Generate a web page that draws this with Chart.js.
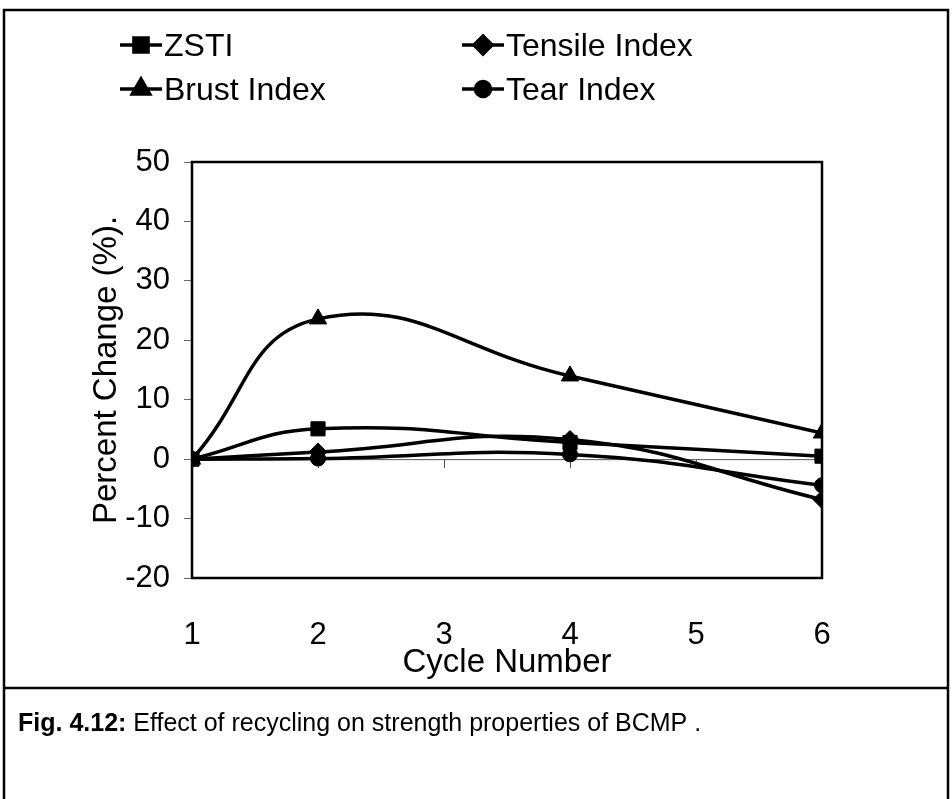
<!DOCTYPE html>
<html>
<head>
<meta charset="utf-8">
<script src="https://cdn.jsdelivr.net/npm/chart.js@4.4.1/dist/chart.umd.min.js"></script>
<style>
  html, body { margin: 0; padding: 0; background: #fff; }
  #wrap { width: 952px; height: 799px; position: relative; }
</style>
</head>
<body>
<div id="wrap"><canvas id="c" width="952" height="799"></canvas></div>
<script>
// Recycling cycles at which the pulp was tested
const cycles = [1, 2, 4, 6];

// Percent change of each strength property relative to the first cycle
const zstiValues    = [0, 5.1, 2.8, 0.5];
const tensileValues = [0, 1.2, 3.3, -6.8];
const brustValues   = [0, 23.6, 14.0, 4.4];
const tearValues    = [0, 0.1, 0.8, -4.4];

const seriesNames = ['ZSTI', 'Tensile Index', 'Brust Index', 'Tear Index'];

const yTicks = { min: -20, max: 50, step: 10 };
const xTicks = { min: 1, max: 6, step: 1 };

const yTitle = 'Percent Change (%).';
const xTitle = 'Cycle Number';
const captionBold = 'Fig. 4.12:';
const captionText = ' Effect of recycling on strength properties of BCMP .';

const FONT = '"Liberation Sans", Arial, sans-serif';

function pts(values) {
  return cycles.map((c, i) => ({ x: c, y: values[i] }));
}

function series(label, values, style, radius) {
  return {
    label,
    data: pts(values),
    borderColor: '#000',
    backgroundColor: '#000',
    borderWidth: 3.5,
    pointStyle: style,
    pointRadius: radius,
    pointHoverRadius: radius,
    pointBorderWidth: 1,
    pointBorderColor: '#000',
    pointBackgroundColor: '#000',
    tension: 0.45,
    fill: false
  };
}

// Frame, plot box, zero line, titles, legend and caption
const decor = {
  id: 'decor',
  beforeDatasetsDraw(chart) {
    const ctx = chart.ctx;
    const a = chart.chartArea;
    const xs = chart.scales.x, ys = chart.scales.y;
    ctx.save();
    // zero line with tick marks
    const y0 = ys.getPixelForValue(0);
    ctx.strokeStyle = '#555';
    ctx.lineWidth = 1;
    ctx.beginPath();
    ctx.moveTo(a.left, y0 + 0.5);
    ctx.lineTo(a.right, y0 + 0.5);
    for (let v = xTicks.min + 1; v < xTicks.max; v += xTicks.step) {
      const px = Math.round(xs.getPixelForValue(v)) + 0.5;
      ctx.moveTo(px, y0);
      ctx.lineTo(px, y0 + 9);
    }
    ctx.stroke();
    ctx.restore();
  },
  afterDraw(chart) {
    const ctx = chart.ctx;
    const a = chart.chartArea;
    ctx.save();
    // plot box
    ctx.strokeStyle = '#000';
    ctx.lineWidth = 2.5;
    ctx.strokeRect(a.left, a.top, a.right - a.left, a.bottom - a.top);

    // outer figure frame and caption divider
    ctx.lineWidth = 2.5;
    ctx.beginPath();
    ctx.moveTo(4, 799);
    ctx.lineTo(4, 10);
    ctx.lineTo(948, 10);
    ctx.lineTo(948, 799);
    ctx.moveTo(4, 688);
    ctx.lineTo(948, 688);
    ctx.stroke();

    ctx.fillStyle = '#000';
    // axis titles
    ctx.font = '33px ' + FONT;
    ctx.textAlign = 'center';
    ctx.textBaseline = 'middle';
    ctx.fillText(xTitle, (a.left + a.right) / 2, 663);
    ctx.save();
    ctx.translate(107, (a.top + a.bottom) / 2);
    ctx.rotate(-Math.PI / 2);
    ctx.fillText(yTitle, 0, 0);
    ctx.restore();

    // legend: two columns, two rows
    const slots = [[120, 45], [462, 45], [120, 89], [462, 89]];
    chart.data.datasets.forEach((ds, i) => {
      const [lx, ly] = slots[i];
      ctx.strokeStyle = '#000';
      ctx.lineWidth = 3.5;
      ctx.beginPath();
      ctx.moveTo(lx, ly);
      ctx.lineTo(lx + 42, ly);
      ctx.stroke();
      ctx.fillStyle = '#000';
      Chart.helpers.drawPoint(ctx, {
        pointStyle: ds.pointStyle,
        radius: ds.pointRadius,
        borderWidth: 1,
        rotation: 0
      }, lx + 21, ly);
      ctx.fill();
      ctx.font = '32px ' + FONT;
      ctx.textAlign = 'left';
      ctx.textBaseline = 'middle';
      ctx.fillText(ds.label, lx + 44, ly + 2);
    });

    // caption
    ctx.textAlign = 'left';
    ctx.textBaseline = 'alphabetic';
    ctx.font = 'bold 25px ' + FONT;
    ctx.fillText(captionBold, 18, 731);
    const w = ctx.measureText(captionBold).width;
    ctx.font = '25px ' + FONT;
    ctx.fillText(captionText, 18 + w, 731);
    ctx.restore();
  }
};

new Chart(document.getElementById('c'), {
  type: 'line',
  data: {
    datasets: [
      series(seriesNames[0], zstiValues, 'rect', 10),
      series(seriesNames[1], tensileValues, 'rectRot', 9),
      series(seriesNames[2], brustValues, 'triangle', 10),
      series(seriesNames[3], tearValues, 'circle', 7.5)
    ]
  },
  options: {
    responsive: false,
    animation: false,
    events: [],
    layout: { padding: { top: 162, right: 130, left: 0, bottom: 0 } },
    plugins: { legend: { display: false }, tooltip: { enabled: false } },
    scales: {
      x: {
        type: 'linear',
        min: xTicks.min,
        max: xTicks.max,
        afterFit(s) { s.height = 221; },
        grid: { display: false, drawTicks: false },
        border: { display: false },
        ticks: {
          stepSize: xTicks.step,
          padding: 39,
          color: '#000',
          font: { family: FONT, size: 31 }
        }
      },
      y: {
        min: yTicks.min,
        max: yTicks.max,
        afterFit(s) { s.width = 192; },
        grid: { drawOnChartArea: false, drawTicks: true, tickLength: 8, color: '#666' },
        border: { display: false },
        ticks: {
          stepSize: yTicks.step,
          padding: 14,
          color: '#000',
          font: { family: FONT, size: 31 }
        }
      }
    }
  },
  plugins: [decor]
});
</script>
</body>
</html>
